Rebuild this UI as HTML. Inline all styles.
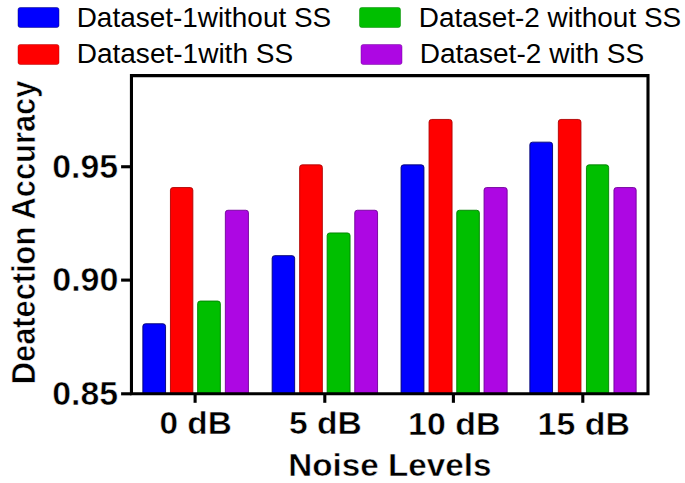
<!DOCTYPE html>
<html><head><meta charset="utf-8"><style>
html,body{margin:0;padding:0;background:#fff;}
svg{display:block;}
text{font-family:"Liberation Sans",sans-serif;}
</style></head><body>
<svg width="685" height="483" viewBox="0 0 685 483">
<rect width="685" height="483" fill="#fff"/>
<rect x="18" y="7.5" width="41" height="20" rx="2.2" fill="#0000ff" stroke="#000070" stroke-width="0.8" stroke-opacity="0.6"/>
<rect x="18" y="44.5" width="41" height="20" rx="2.2" fill="#ff0000" stroke="#b00000" stroke-width="0.8" stroke-opacity="0.6"/>
<rect x="359.5" y="7.5" width="41" height="20" rx="2.2" fill="#00bf00" stroke="#008000" stroke-width="0.8" stroke-opacity="0.6"/>
<rect x="361" y="44.5" width="41" height="20" rx="2.2" fill="#ad07e3" stroke="#700098" stroke-width="0.8" stroke-opacity="0.6"/>
<text transform="translate(76.71 26.50) scale(1.0118 1)" font-size="27.6" font-weight="normal" fill="#000">Dataset-1without SS</text>
<text transform="translate(76.70 63.00) scale(1.0158 1)" font-size="27.6" font-weight="normal" fill="#000">Dataset-1with SS</text>
<text transform="translate(418.71 26.50) scale(1.0128 1)" font-size="27.6" font-weight="normal" fill="#000">Dataset-2 without SS</text>
<text transform="translate(419.70 63.00) scale(1.0167 1)" font-size="27.6" font-weight="normal" fill="#000">Dataset-2 with SS</text>
<path d="M142.85,394 V326.35 Q142.85,323.75 145.45,323.75 H162.95 Q165.55,323.75 165.55,326.35 V394 Z" fill="#0000ff" stroke="#000070" stroke-width="0.9"/>
<path d="M170.45,394 V190.15 Q170.45,187.55 173.05,187.55 H190.25 Q192.85,187.55 192.85,190.15 V394 Z" fill="#ff0000" stroke="#b00000" stroke-width="0.9"/>
<path d="M197.65,394 V303.65 Q197.65,301.05 200.25,301.05 H217.75 Q220.35,301.05 220.35,303.65 V394 Z" fill="#00bf00" stroke="#008000" stroke-width="0.9"/>
<path d="M225.35,394 V212.85 Q225.35,210.25 227.95,210.25 H245.85 Q248.45,210.25 248.45,212.85 V394 Z" fill="#ad07e3" stroke="#700098" stroke-width="0.9"/>
<path d="M272.15,394 V258.25 Q272.15,255.65 274.75,255.65 H292.05 Q294.65,255.65 294.65,258.25 V394 Z" fill="#0000ff" stroke="#000070" stroke-width="0.9"/>
<path d="M299.65,394 V167.45 Q299.65,164.85 302.25,164.85 H319.75 Q322.35,164.85 322.35,167.45 V394 Z" fill="#ff0000" stroke="#b00000" stroke-width="0.9"/>
<path d="M327.15,394 V235.55 Q327.15,232.95 329.75,232.95 H347.45 Q350.05,232.95 350.05,235.55 V394 Z" fill="#00bf00" stroke="#008000" stroke-width="0.9"/>
<path d="M354.75,394 V212.85 Q354.75,210.25 357.35,210.25 H374.95 Q377.55,210.25 377.55,212.85 V394 Z" fill="#ad07e3" stroke="#700098" stroke-width="0.9"/>
<path d="M401.05,394 V167.45 Q401.05,164.85 403.65,164.85 H421.35 Q423.95,164.85 423.95,167.45 V394 Z" fill="#0000ff" stroke="#000070" stroke-width="0.9"/>
<path d="M429.05,394 V122.05 Q429.05,119.45 431.65,119.45 H449.45 Q452.05,119.45 452.05,122.05 V394 Z" fill="#ff0000" stroke="#b00000" stroke-width="0.9"/>
<path d="M456.75,394 V212.85 Q456.75,210.25 459.35,210.25 H476.75 Q479.35,210.25 479.35,212.85 V394 Z" fill="#00bf00" stroke="#008000" stroke-width="0.9"/>
<path d="M484.05,394 V190.15 Q484.05,187.55 486.65,187.55 H504.55 Q507.15,187.55 507.15,190.15 V394 Z" fill="#ad07e3" stroke="#700098" stroke-width="0.9"/>
<path d="M529.85,394 V144.75 Q529.85,142.15 532.45,142.15 H549.95 Q552.55,142.15 552.55,144.75 V394 Z" fill="#0000ff" stroke="#000070" stroke-width="0.9"/>
<path d="M558.35,394 V122.05 Q558.35,119.45 560.95,119.45 H578.35 Q580.95,119.45 580.95,122.05 V394 Z" fill="#ff0000" stroke="#b00000" stroke-width="0.9"/>
<path d="M586.45,394 V167.45 Q586.45,164.85 589.05,164.85 H606.05 Q608.65,164.85 608.65,167.45 V394 Z" fill="#00bf00" stroke="#008000" stroke-width="0.9"/>
<path d="M613.95,394 V190.15 Q613.95,187.55 616.55,187.55 H633.55 Q636.15,187.55 636.15,190.15 V394 Z" fill="#ad07e3" stroke="#700098" stroke-width="0.9"/>
<path d="M131.45,75.6 H648 V393.8 H131.45 Z" fill="none" stroke="#000" stroke-width="3.1"/>
<line x1="121.1" y1="166.75" x2="131.5" y2="166.75" stroke="#000" stroke-width="3.1"/>
<line x1="121.1" y1="280.1" x2="131.5" y2="280.1" stroke="#000" stroke-width="3.1"/>
<line x1="121.1" y1="393.8" x2="131.5" y2="393.8" stroke="#000" stroke-width="3.1"/>
<line x1="195.1" y1="393.8" x2="195.1" y2="402.8" stroke="#000" stroke-width="3.1"/>
<line x1="324.8" y1="393.8" x2="324.8" y2="402.8" stroke="#000" stroke-width="3.1"/>
<line x1="453.4" y1="393.8" x2="453.4" y2="402.8" stroke="#000" stroke-width="3.1"/>
<line x1="582.8" y1="393.8" x2="582.8" y2="402.8" stroke="#000" stroke-width="3.1"/>
<text transform="translate(52.21 177.55) scale(1.0475 1)" font-size="32.31428571428572" font-weight="bold" fill="#000" stroke="#fff" stroke-width="0.48">0.95</text>
<text transform="translate(52.20 291.25) scale(1.0549 1)" font-size="32.31428571428572" font-weight="bold" fill="#000" stroke="#fff" stroke-width="0.47">0.90</text>
<text transform="translate(52.21 404.55) scale(1.0475 1)" font-size="32.31428571428572" font-weight="bold" fill="#000" stroke="#fff" stroke-width="0.48">0.85</text>
<text transform="translate(159.43 434.45) scale(1.0525 1)" font-size="31.714285714285715" font-weight="bold" fill="#000" stroke="#fff" stroke-width="0.48">0 dB</text>
<text transform="translate(288.92 434.45) scale(1.0602 1)" font-size="31.714285714285715" font-weight="bold" fill="#000" stroke="#fff" stroke-width="0.47">5 dB</text>
<text transform="translate(408.11 434.75) scale(1.0696 1)" font-size="31.714285714285715" font-weight="bold" fill="#000" stroke="#fff" stroke-width="0.47">10 dB</text>
<text transform="translate(537.51 434.75) scale(1.0708 1)" font-size="31.714285714285715" font-weight="bold" fill="#000" stroke="#fff" stroke-width="0.47">15 dB</text>
<text transform="translate(288.23 475.65) scale(1.0321 1)" font-size="32.214285714285715" font-weight="bold" fill="#000" stroke="#fff" stroke-width="0.48">Noise Levels</text>
<text transform="translate(34.75 384.21) rotate(-90) scale(0.9136 1)" font-size="33.714285714285715" font-weight="bold" stroke="#fff" stroke-width="0.55">Deatection Accuracy</text>
</svg>
</body></html>
